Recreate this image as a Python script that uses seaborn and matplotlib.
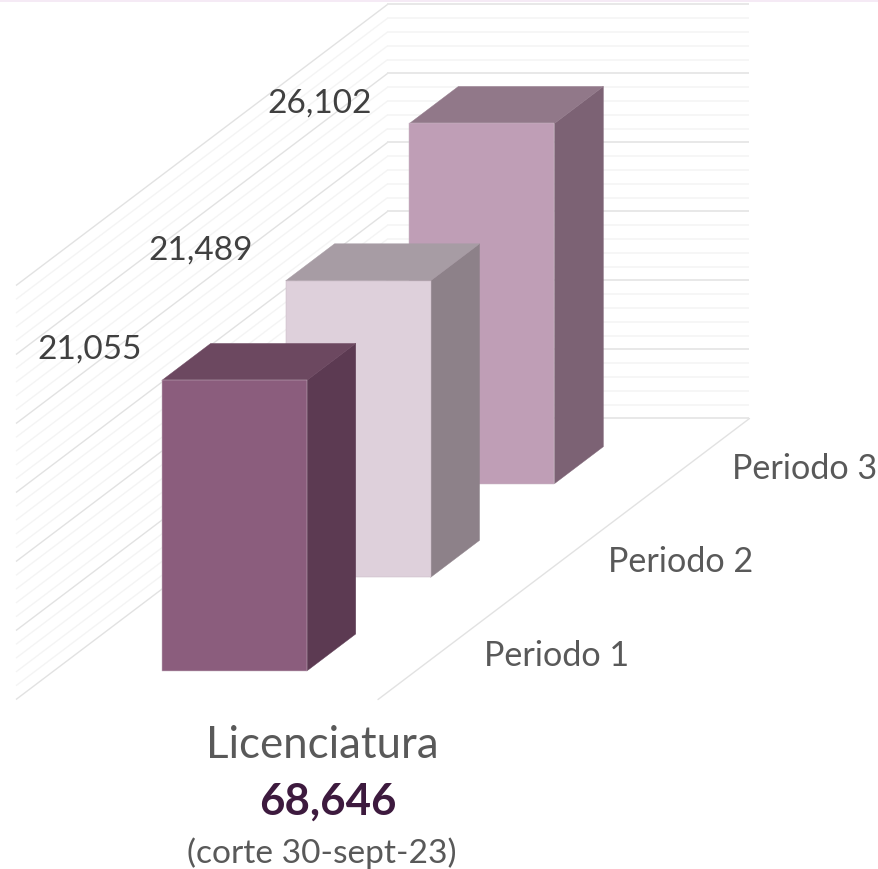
import numpy as np
import pandas as pd
import matplotlib
matplotlib.use("Agg")
import matplotlib.pyplot as plt
from matplotlib.patches import Polygon
import seaborn as sns

# ---- data
periods = ["Periodo 1", "Periodo 2", "Periodo 3"]
values = [21055, 21489, 26102]
value_labels = ["21,055", "21,489", "26,102"]
title_top = "Licenciatura"
title_total = "68,646"
title_note = "(corte 30-sept-23)"
axis_max = 30000
minor_step = 1000
major_step = 5000

# ---- style
front_colors = ["#8B5D7D", "#DED0DB", "#BF9EB6"]
side_colors = ["#5C3A52", "#8D8189", "#7C6274"]
top_colors = ["#6C4860", "#A79CA4", "#917889"]

W, H = 879, 869
PX_PER_UNIT = 0.0138        # vertical pixels for one value unit
PX_PER_CAT = 123.83         # horizontal pixels for one category step
STEP_Y = 93.67 / PX_PER_UNIT  # rise in value units for one step in depth
BAR_PX = 145
ZERO_X, ZERO_Y = 234.3, 671  # pixel of first bar base centre
DEPTH = 0.395                # bar depth, in category steps

sns.set_theme(style="white")
plt.rcParams["font.family"] = ["Lato", "DejaVu Sans"]

fig = plt.figure(figsize=(W / 100, H / 100), dpi=100, facecolor="white")
ax = fig.add_axes([0, 0, 1, 1])

df = pd.DataFrame({"periodo": periods, "valor": values})
sns.barplot(data=df, x="periodo", y="valor", hue="periodo", order=periods,
            hue_order=periods, palette=front_colors, dodge=False, legend=False,
            width=BAR_PX / PX_PER_CAT, saturation=1, ax=ax,
            edgecolor="#C9B8C4", linewidth=0.35)

ax.set_xlim(-ZERO_X / PX_PER_CAT, (W - ZERO_X) / PX_PER_CAT)
ax.set_ylim(-(H - ZERO_Y) / PX_PER_UNIT, ZERO_Y / PX_PER_UNIT)
ax.axis("off")

# walls and floor, in the axes' own data space
wall_x0 = (16 - ZERO_X) / PX_PER_CAT
floor_w = 362 / PX_PER_CAT
floor_y0 = -(699.5 - ZERO_Y) / PX_PER_UNIT
n_depth = len(periods)
MAJOR, MINOR = "#E2E2E2", "#F4F4F4"
for v in np.arange(0, axis_max + 1, minor_step):
    is_major = v % major_step == 0
    c = MAJOR if is_major else MINOR
    z = 0.6 if is_major else 0.5
    y0 = floor_y0 + v
    y1 = y0 + n_depth * STEP_Y
    xb = wall_x0 + n_depth
    ax.plot([wall_x0, xb], [y0, y1], color=c, lw=1.0, zorder=z, solid_capstyle="butt")
    ax.plot([xb, xb + floor_w], [y1, y1], color=c, lw=1.1, zorder=z, solid_capstyle="butt")
ax.plot([wall_x0 + floor_w, wall_x0 + floor_w + n_depth],
        [floor_y0, floor_y0 + n_depth * STEP_Y], color=MAJOR, lw=1.0, zorder=0.6)

# bars: shift the seaborn fronts along the depth, then extrude side and top
bars = sorted([p for p in ax.patches if p.get_height() > 0], key=lambda p: p.get_x())
for i, (bar, val) in enumerate(zip(bars, values)):
    base = i * STEP_Y
    bar.set_y(base)
    z = 10 - 2 * i
    bar.set_zorder(z + 1)
    x0 = bar.get_x()
    x1 = x0 + bar.get_width()
    top = base + val
    dx = DEPTH
    dy = DEPTH * STEP_Y
    ax.add_patch(Polygon([(x1, base), (x1 + dx, base + dy), (x1 + dx, top + dy), (x1, top)],
                         closed=True, fc=side_colors[i], ec=side_colors[i], lw=0.3, zorder=z))
    ax.add_patch(Polygon([(x0, top), (x1, top), (x1 + dx, top + dy), (x0 + dx, top + dy)],
                         closed=True, fc=top_colors[i], ec=top_colors[i], lw=0.3, zorder=z))

# data labels
label_dx_px = [-72, -85, -90]
label_dy_px = [31, 31, 20]
for i, (bar, val, lab) in enumerate(zip(bars, values, value_labels)):
    ax.text(bar.get_x() + label_dx_px[i] / PX_PER_CAT,
            i * STEP_Y + val + (label_dy_px[i] - 0.5) / PX_PER_UNIT,
            lab, ha="center", va="center", fontsize=24, color="#404040", zorder=20)

# category labels
for i, name in enumerate(periods):
    ax.text(i + 322.5 / PX_PER_CAT, i * STEP_Y + 15 / PX_PER_UNIT, name, ha="center",
            va="center", fontsize=24.6, color="#595959", zorder=20)

# title block and the faint rule at the top
def fx(x):
    return x / W
def fy(y):
    return 1 - y / H
fig.text(fx(322.5), fy(746), title_top, ha="center", va="center", fontsize=31.5, color="#595959")
fig.text(fx(327.5), fy(802), title_total, ha="center", va="center", fontsize=31.5,
         fontweight="bold", color="#3D1A3E")
fig.text(fx(322), fy(853), title_note, ha="center", va="center", fontsize=24.1, color="#595959")
fig.add_artist(plt.Line2D([0, 1], [fy(0.5), fy(0.5)], color="#F3E6F3", lw=1.2))

fig.savefig("out.png", dpi=100, facecolor="white")
